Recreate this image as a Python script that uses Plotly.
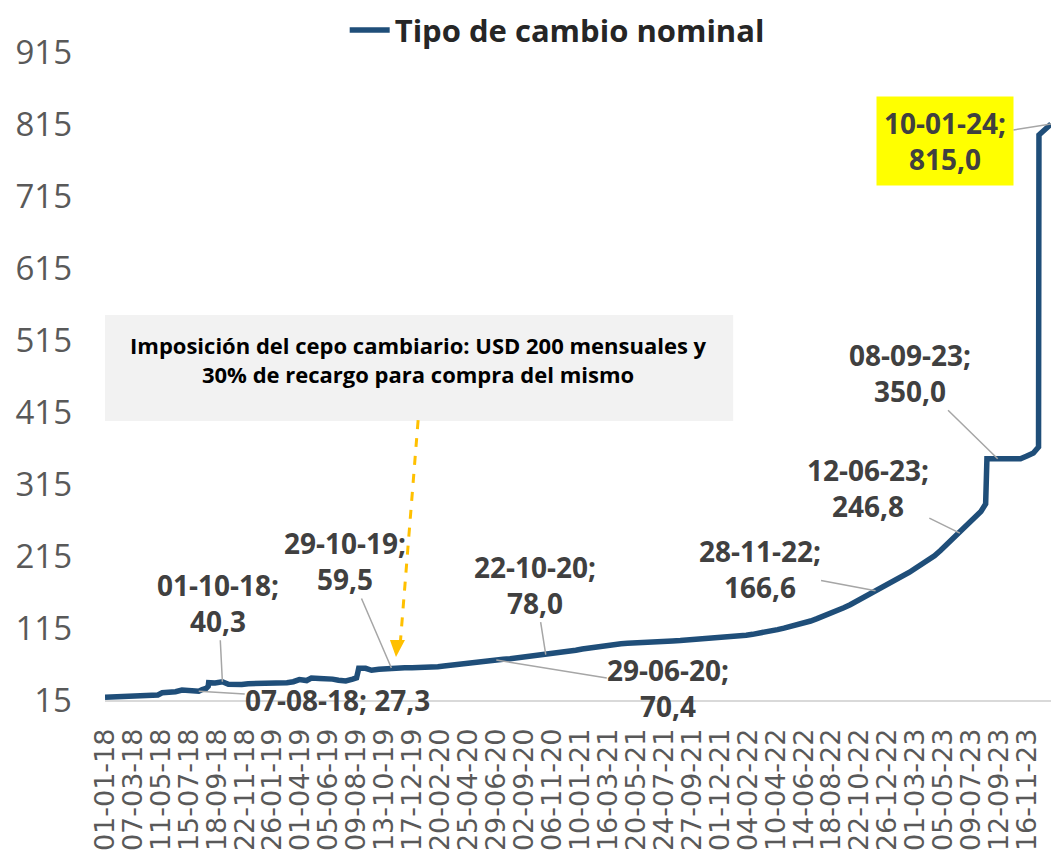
import pandas as pd
import plotly.graph_objects as go

# ---- Tipo de cambio nominal (ARS por USD) ----
fechas = [
    "2018-01-01", "2018-01-15", "2018-02-01", "2018-02-15", "2018-03-01", "2018-03-15",
    "2018-04-02", "2018-04-16", "2018-04-27", "2018-05-04", "2018-05-14", "2018-05-31",
    "2018-06-14", "2018-06-29", "2018-07-16", "2018-07-31", "2018-08-07", "2018-08-15",
    "2018-08-24", "2018-08-29", "2018-08-30", "2018-09-14", "2018-09-28", "2018-10-01",
    "2018-10-15", "2018-10-31", "2018-11-15", "2018-11-30", "2018-12-14", "2018-12-28",
    "2019-01-15", "2019-01-31", "2019-02-15", "2019-02-28", "2019-03-15", "2019-03-29",
    "2019-04-15", "2019-04-26", "2019-05-15", "2019-05-31", "2019-06-14", "2019-06-28",
    "2019-07-15", "2019-07-31", "2019-08-09", "2019-08-12", "2019-08-14", "2019-08-30",
    "2019-09-13", "2019-09-30", "2019-10-15", "2019-10-29", "2019-11-15", "2019-11-29",
    "2019-12-16", "2019-12-31", "2020-01-15", "2020-01-31", "2020-02-14", "2020-02-28",
    "2020-03-13", "2020-03-31", "2020-04-15", "2020-04-30", "2020-05-15", "2020-05-29",
    "2020-06-15", "2020-06-29", "2020-07-15", "2020-07-31", "2020-08-14", "2020-08-31",
    "2020-09-15", "2020-09-30", "2020-10-15", "2020-10-22", "2020-10-30", "2020-11-13",
    "2020-11-30", "2020-12-15", "2020-12-31", "2021-01-15", "2021-01-29", "2021-02-15",
    "2021-02-26", "2021-03-15", "2021-03-31", "2021-04-15", "2021-04-30", "2021-05-14",
    "2021-05-31", "2021-06-15", "2021-06-30", "2021-07-15", "2021-07-30", "2021-08-13",
    "2021-08-31", "2021-09-15", "2021-09-30", "2021-10-15", "2021-10-29", "2021-11-15",
    "2021-11-30", "2021-12-15", "2021-12-30", "2022-01-14", "2022-01-31", "2022-02-15",
    "2022-02-25", "2022-03-15", "2022-03-31", "2022-04-14", "2022-04-29", "2022-05-13",
    "2022-05-31", "2022-06-15", "2022-06-30", "2022-07-15", "2022-07-29", "2022-08-12",
    "2022-08-31", "2022-09-15", "2022-09-30", "2022-10-14", "2022-10-31", "2022-11-15",
    "2022-11-28", "2022-12-15", "2022-12-30", "2023-01-13", "2023-01-31", "2023-02-15",
    "2023-02-28", "2023-03-15", "2023-03-31", "2023-04-14", "2023-04-28", "2023-05-15",
    "2023-05-31", "2023-06-12", "2023-06-30", "2023-07-14", "2023-07-31", "2023-08-11",
    "2023-08-14", "2023-09-08", "2023-10-31", "2023-11-15", "2023-11-30", "2023-12-12",
    "2023-12-13", "2023-12-29", "2024-01-10",
]
tipo_cambio = [
    18.8, 19.0, 19.6, 19.8, 20.1, 20.3,
    20.2, 20.3, 20.6, 22.0, 25.0, 25.0,
    26.5, 28.8, 27.5, 27.4, 27.3, 29.5,
    31.0, 34.0, 39.0, 38.5, 40.9, 40.3,
    36.8, 36.2, 36.5, 37.7, 38.0, 37.8,
    37.5, 37.3, 38.6, 39.0, 40.4, 43.4,
    42.0, 45.4, 45.0, 44.9, 44.0, 42.5,
    41.5, 43.9, 45.8, 53.5, 59.0, 59.0,
    56.3, 57.6, 58.6, 59.5, 59.8, 59.9,
    59.9, 59.9, 60.0, 60.3, 61.3, 62.2,
    63.3, 64.5, 65.3, 66.8, 67.9, 68.5,
    69.5, 70.4, 71.6, 72.3, 73.3, 74.2,
    75.3, 76.2, 77.5, 78.0, 78.3, 79.7,
    81.3, 82.6, 84.1, 85.9, 87.3, 88.6,
    89.8, 90.6, 92.0, 93.0, 93.7, 94.4,
    94.7, 95.2, 95.7, 96.2, 96.8, 97.1,
    97.7, 98.3, 98.7, 99.2, 99.7, 100.5,
    101.1, 101.9, 102.7, 104.0, 105.0, 106.2,
    107.1, 109.4, 111.0, 112.8, 114.8, 116.8,
    119.3, 121.5, 124.7, 128.1, 131.2, 134.6,
    138.7, 143.2, 147.3, 151.8, 156.9, 161.6,
    166.6, 172.2, 177.1, 181.6, 186.9, 192.5,
    197.7, 203.6, 209.0, 215.3, 222.6, 232.5,
    240.0, 246.8, 256.7, 266.0, 276.8, 287.3,
    350.0, 350.0, 350.0, 354.0, 358.0, 366.5,
    799.9, 808.5, 815.0,
]

# ---- Etiquetas de datos destacadas ----
label_fechas = ["2018-10-01", "2018-08-07", "2019-10-29", "2020-10-22", "2020-06-29",
                "2022-11-28", "2023-06-12", "2023-09-08", "2024-01-10"]
label_valores = [40.3, 27.3, 59.5, 78.0, 70.4, 166.6, 246.8, 350.0, 815.0]
label_textos = ["01-10-18;<br>40,3", "07-08-18; 27,3", "29-10-19;<br>59,5",
                "22-10-20;<br>78,0", "29-06-20;<br>70,4", "28-11-22;<br>166,6",
                "12-06-23;<br>246,8", "08-09-23;<br>350,0", "10-01-24;<br>815,0"]
label_ax = [-4, 139, -46, -11, 172, -116, -92, -88, -106]
label_ay = [-79, 9, -107, -70, 28, -22, -45, -86, 17]

y_ticks = [15, 115, 215, 315, 415, 515, 615, 715, 815, 915]
x_ticks = pd.date_range("2018-01-01", "2023-11-20", freq="65D")
x_ticktext = [d.strftime("%d-%m-%y") for d in x_ticks]

AZUL = "#1f4e79"
GRIS_TXT = "#404040"

fig = go.Figure()
fig.add_trace(go.Scatter(
    x=pd.to_datetime(fechas), y=tipo_cambio, mode="lines",
    name="Tipo de cambio nominal",
    line=dict(color=AZUL, width=5.5),
))

for f, v, t, ax, ay in zip(label_fechas, label_valores, label_textos, label_ax, label_ay):
    resaltado = f == "2024-01-10"
    fig.add_annotation(
        x=f, y=v, text=t, showarrow=True, arrowhead=0, arrowwidth=1.5,
        arrowcolor="#a6a6a6", ax=ax, ay=ay, standoff=0,
        font=dict(family="Open Sans", size=28, color=GRIS_TXT, weight="bold"),
        bgcolor="#ffff00" if resaltado else "rgba(0,0,0,0)",
        borderpad=7 if resaltado else 0,
    )

# ---- Recuadro del cepo ----
fig.add_shape(type="rect", xref="paper", yref="paper", x0=0, x1=0.664, y0=0.4306, y1=0.594,
              fillcolor="#f2f2f2", line=dict(width=0), layer="below")
fig.add_annotation(
    xref="paper", yref="paper", x=0.331, y=0.526, xanchor="center", yanchor="middle",
    showarrow=False,
    text="Imposición del cepo cambiario: USD 200 mensuales y<br>30% de recargo para compra del mismo",
    font=dict(family="Open Sans", size=22, color="#000000", weight="bold"),
)
# flecha punteada
fig.add_shape(type="line", xref="paper", yref="paper", x0=0.331, y0=0.432, x1=0.312, y1=0.085,
              line=dict(color="#ffc000", width=3, dash="dash"))
fig.add_shape(type="path", xref="paper", yref="paper",
              path="M 0.3012 0.0926 L 0.3171 0.0926 L 0.3076 0.0663 Z",
              fillcolor="#ffc000", line=dict(width=0))

fig.update_layout(
    width=1051, height=862,
    margin=dict(l=105, r=0, t=52, b=162, autoexpand=False),
    paper_bgcolor="white", plot_bgcolor="white",
    showlegend=True,
    legend=dict(orientation="h", x=0.478, xanchor="center", y=1.075, yanchor="top",
                font=dict(family="Open Sans", size=31, color="#262626", weight="bold"),
                itemwidth=40),
    xaxis=dict(
        type="date", range=["2018-01-01", "2024-01-10"],
        tickmode="array", tickvals=x_ticks, ticktext=x_ticktext, tickangle=-90,
        tickfont=dict(family="DejaVu Sans", size=27, color="#595959"),
        showgrid=False, showline=True, linecolor="#d9d9d9", linewidth=1.5,
        ticks="", ticklabelstandoff=16, automargin=False,
    ),
    yaxis=dict(
        range=[15, 915], tickmode="array", tickvals=y_ticks,
        tickfont=dict(family="Open Sans", size=33, color="#595959"),
        showgrid=False, zeroline=False, showline=False, ticks="",
        ticklabelstandoff=32, automargin=False,
    ),
)

# quitar el margen por defecto del body para que el grafico quede en (0, 0)
fig.write_html("out.html", config={"displayModeBar": False},
               post_script="document.body.style.margin='0px';")
